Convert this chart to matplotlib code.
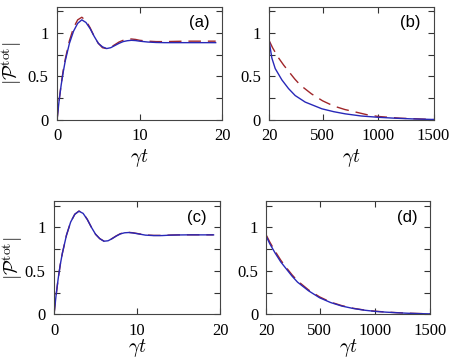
import matplotlib
matplotlib.use('Agg')
import matplotlib.pyplot as plt
import numpy as np

plt.rcParams['mathtext.fontset'] = 'cm'
plt.rcParams['font.family'] = ['Liberation Serif', 'DejaVu Serif']

# Paneles (a) y (c): tiempo corto
t_corto = [0, 0.25, 0.5, 0.75, 1, 1.5, 2, 2.5, 3, 3.5, 4, 4.5, 5, 5.5, 6, 6.5,
           7, 7.5, 8, 8.5, 9, 9.5, 10, 11, 12, 13, 14, 15, 16, 17, 18, 19.2]
a_azul = [0, 0.22, 0.40, 0.55, 0.68, 0.88, 1.02, 1.11, 1.15, 1.12, 1.05, 0.96,
          0.88, 0.84, 0.82, 0.83, 0.855, 0.88, 0.90, 0.91, 0.915, 0.912, 0.905,
          0.895, 0.89, 0.888, 0.888, 0.888, 0.888, 0.888, 0.888, 0.888]
a_rojo = [0, 0.22, 0.41, 0.57, 0.70, 0.91, 1.06, 1.15, 1.18, 1.14, 1.06, 0.96,
          0.88, 0.83, 0.82, 0.835, 0.865, 0.895, 0.915, 0.928, 0.93, 0.925, 0.915,
          0.905, 0.90, 0.90, 0.902, 0.904, 0.905, 0.905, 0.905, 0.905]
c_azul = [0, 0.22, 0.41, 0.57, 0.70, 0.91, 1.06, 1.15, 1.185, 1.16, 1.09, 1.00,
          0.92, 0.87, 0.84, 0.845, 0.87, 0.90, 0.925, 0.937, 0.94, 0.935, 0.927,
          0.91, 0.905, 0.905, 0.91, 0.912, 0.913, 0.913, 0.913, 0.913]
c_rojo = [0, 0.22, 0.41, 0.57, 0.70, 0.91, 1.06, 1.15, 1.187, 1.162, 1.092, 1.00,
          0.92, 0.87, 0.842, 0.847, 0.872, 0.902, 0.927, 0.939, 0.942, 0.937, 0.929,
          0.912, 0.907, 0.907, 0.911, 0.913, 0.914, 0.914, 0.914, 0.914]

# Panel (b): tiempo largo
tb_azul = [20, 30, 44, 74, 134, 194, 254, 344, 494, 600, 704, 850, 1005, 1150, 1305, 1500]
b_azul = [0.91, 0.82, 0.71, 0.59, 0.46, 0.36, 0.28, 0.205, 0.128, 0.095, 0.07,
          0.045, 0.03, 0.02, 0.012, 0.005]
tb_rojo = [20, 50, 100, 150, 200, 250, 300, 400, 500, 600, 700, 800, 900, 1000, 1200, 1500]
b_rojo = [0.91, 0.83, 0.72, 0.63, 0.55, 0.47, 0.40, 0.30, 0.22, 0.16, 0.12,
          0.09, 0.06, 0.04, 0.02, 0.005]

# Panel (d)
td = [20, 50, 100, 150, 200, 250, 300, 400, 500, 600, 700, 800, 900, 1000,
      1100, 1200, 1300, 1400, 1500]
d_azul = [0.89, 0.81, 0.70, 0.60, 0.52, 0.44, 0.37, 0.27, 0.19, 0.135, 0.095,
          0.068, 0.048, 0.034, 0.025, 0.018, 0.012, 0.008, 0.005]
d_rojo = [0.905, 0.83, 0.72, 0.62, 0.535, 0.455, 0.385, 0.28, 0.20, 0.14, 0.10,
          0.07, 0.05, 0.036, 0.026, 0.019, 0.013, 0.009, 0.006]

azul = '#2828b8'
rojo = '#a0262a'

fig = plt.figure(figsize=(4.54, 3.58), dpi=100)
ax_a = fig.add_axes([0.1256, 0.665, 0.364, 0.316])
ax_b = fig.add_axes([0.593, 0.665, 0.362, 0.316])
ax_c = fig.add_axes([0.119, 0.122, 0.366, 0.316])
ax_d = fig.add_axes([0.587, 0.122, 0.361, 0.316])

def dibujar(ax, tr, yr, ta, ya, etiqueta, largo, pad_x):
    ax.plot(tr, yr, color=rojo, lw=1.0, dashes=(9, 5))
    ax.plot(ta, ya, color=azul, lw=1.0)
    ax.set_ylim(0, 1.3)
    ax.set_yticks([0, 0.25, 0.5, 0.75, 1, 1.25])
    ax.set_yticklabels(['0', '', '0.5', '', '1', ''])
    if largo:
        ax.set_xlim(20, 1500)
        ax.set_xticks([20, 500, 1000, 1500])
    else:
        ax.set_xlim(0, 20)
        ax.set_xticks([0, 10, 20])
    ax.tick_params(direction='in', top=True, right=True, length=4,
                   labelsize=12, colors='#333333', labelcolor='black', pad=6)
    for s in ax.spines.values():
        s.set_color('#444444')
        s.set_linewidth(0.8)
    ax.set_xlabel(r'$\gamma t$', fontsize=14, labelpad=pad_x)
    ax.text(0.86, 0.86, etiqueta, transform=ax.transAxes, ha='center', va='center',
            fontsize=12, family='Liberation Sans')

dibujar(ax_a, t_corto, a_rojo, t_corto, a_azul, '(a)', False, 2)
dibujar(ax_b, tb_rojo, b_rojo, tb_azul, b_azul, '(b)', True, 2)
dibujar(ax_c, t_corto, c_rojo, t_corto, c_azul, '(c)', False, -1)
dibujar(ax_d, td, d_rojo, td, d_azul, '(d)', True, -1)

for ax, xl in ((ax_a, -0.2), (ax_c, -0.175)):
    ax.set_ylabel(r'$|\mathcal{P}^{\rm tot}|$', fontsize=14)
    ax.yaxis.set_label_coords(xl, 0.5)

fig.savefig('out.png', dpi=100)
